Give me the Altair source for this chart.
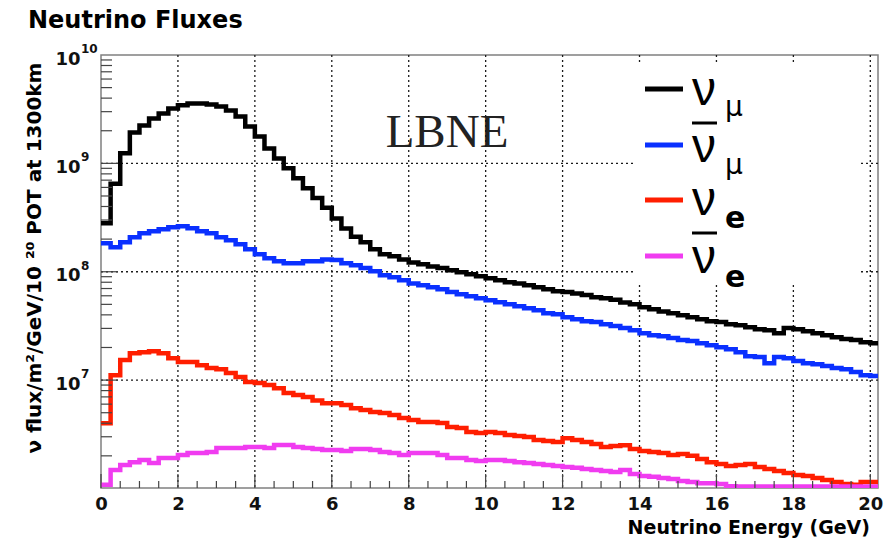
import altair as alt
import pandas as pd

# Flux per 0.25 GeV bin, starting at 0 GeV (nu/m^2/GeV/1e20 POT at 1300 km)
BIN_WIDTH = 0.25

NU_MU = [
    2.8e8, 6.5e8, 1.24e9, 1.93e9, 2.24e9, 2.60e9, 2.89e9, 3.21e9, 3.43e9, 3.57e9,
    3.57e9, 3.50e9, 3.35e9, 3.08e9, 2.71e9, 2.19e9, 1.77e9, 1.37e9, 1.11e9, 9.0e8,
    7.3e8, 5.9e8, 4.8e8, 3.9e8, 3.1e8, 2.5e8, 2.1e8, 1.87e8, 1.61e8, 1.45e8,
    1.39e8, 1.30e8, 1.22e8, 1.17e8, 1.12e8, 1.08e8, 1.03e8, 9.9e7, 9.5e7, 9.1e7,
    8.7e7, 8.35e7, 8.0e7, 7.8e7, 7.5e7, 7.2e7, 6.9e7, 6.6e7, 6.5e7, 6.3e7,
    6.1e7, 5.8e7, 5.7e7, 5.5e7, 5.2e7, 5.0e7, 4.7e7, 4.5e7, 4.3e7, 4.15e7,
    3.97e7, 3.81e7, 3.65e7, 3.50e7, 3.43e7, 3.28e7, 3.21e7, 3.08e7, 2.95e7, 2.89e7,
    2.71e7, 3.02e7, 2.95e7, 2.83e7, 2.71e7, 2.60e7, 2.49e7, 2.39e7, 2.34e7, 2.24e7,
    2.19e7,
]

NU_MU_BAR = [
    1.83e8, 1.68e8, 1.87e8, 2.08e8, 2.26e8, 2.36e8, 2.46e8, 2.57e8, 2.63e8, 2.52e8,
    2.36e8, 2.26e8, 2.08e8, 1.95e8, 1.79e8, 1.61e8, 1.45e8, 1.33e8, 1.25e8, 1.20e8,
    1.20e8, 1.25e8, 1.25e8, 1.30e8, 1.28e8, 1.20e8, 1.15e8, 1.08e8, 1.01e8, 9.3e7,
    8.9e7, 8.35e7, 7.8e7, 7.5e7, 7.2e7, 6.9e7, 6.5e7, 6.2e7, 5.94e7, 5.7e7,
    5.46e7, 5.24e7, 5.01e7, 4.81e7, 4.61e7, 4.42e7, 4.15e7, 4.06e7, 3.81e7, 3.65e7,
    3.50e7, 3.43e7, 3.28e7, 3.15e7, 3.02e7, 2.89e7, 2.71e7, 2.60e7, 2.54e7, 2.44e7,
    2.34e7, 2.29e7, 2.19e7, 2.10e7, 2.01e7, 1.93e7, 1.81e7, 1.66e7, 1.63e7, 1.43e7,
    1.63e7, 1.59e7, 1.50e7, 1.43e7, 1.40e7, 1.35e7, 1.29e7, 1.26e7, 1.19e7, 1.11e7,
    1.09e7,
]

NU_E = [
    4.0e6, 1.11e7, 1.53e7, 1.77e7, 1.81e7, 1.85e7, 1.77e7, 1.59e7, 1.47e7, 1.47e7,
    1.37e7, 1.29e7, 1.26e7, 1.16e7, 1.07e7, 9.6e6, 9.4e6, 9.0e6, 8.4e6, 7.6e6,
    7.3e6, 7.0e6, 6.5e6, 6.1e6, 6.1e6, 5.9e6, 5.5e6, 5.3e6, 5.07e6, 4.97e6,
    4.76e6, 4.47e6, 4.28e6, 4.10e6, 4.10e6, 4.02e6, 3.69e6, 3.61e6, 3.32e6, 3.25e6,
    3.32e6, 3.25e6, 3.11e6, 3.05e6, 2.98e6, 2.80e6, 2.74e6, 2.68e6, 2.90e6, 2.80e6,
    2.68e6, 2.57e6, 2.41e6, 2.46e6, 2.50e6, 2.31e6, 2.22e6, 2.17e6, 2.12e6, 2.04e6,
    2.08e6, 2.00e6, 1.87e6, 1.75e6, 1.68e6, 1.61e6, 1.65e6, 1.68e6, 1.58e6, 1.51e6,
    1.45e6, 1.39e6, 1.33e6, 1.30e6, 1.25e6, 1.20e6, 1.15e6, 1.10e6, 1.08e6, 1.15e6,
    1.15e6,
]

NU_E_BAR = [
    1.08e6, 1.48e6, 1.65e6, 1.75e6, 1.83e6, 1.72e6, 1.91e6, 1.91e6, 2.04e6, 2.12e6,
    2.12e6, 2.17e6, 2.36e6, 2.36e6, 2.36e6, 2.41e6, 2.41e6, 2.36e6, 2.52e6, 2.52e6,
    2.41e6, 2.36e6, 2.31e6, 2.26e6, 2.26e6, 2.22e6, 2.31e6, 2.31e6, 2.26e6, 2.17e6,
    2.12e6, 2.04e6, 2.12e6, 2.12e6, 2.12e6, 2.04e6, 1.91e6, 1.91e6, 1.83e6, 1.79e6,
    1.83e6, 1.83e6, 1.79e6, 1.75e6, 1.72e6, 1.68e6, 1.65e6, 1.61e6, 1.58e6, 1.55e6,
    1.51e6, 1.48e6, 1.45e6, 1.42e6, 1.48e6, 1.36e6, 1.30e6, 1.28e6, 1.25e6, 1.22e6,
    1.17e6, 1.15e6, 1.12e6, 1.12e6, 1.10e6, 1.05e6, 1.04e6, 1.04e6, 1.04e6, 1.04e6,
    1.04e6, 1.04e6, 1.04e6, 1.04e6, 1.04e6, 1.04e6, 1.04e6, 1.04e6, 1.04e6, 1.04e6,
    1.04e6,
]

SERIES = ["numu", "numubar", "nue", "nuebar"]
COLORS = ["#000000", "#0a30ff", "#ff1e00", "#f03cf0"]

X_LABELS = [0, 2, 4, 6, 8, 10, 12, 14, 16, 18, 20]
Y_LABELS = [1e7, 1e8, 1e9, 1e10]
Y_EXPONENTS = ["7", "8", "9", "10"]

# histogram outlines: each bin's low edge, plus the closing edge of the last bin
rows = []
for name, vals in zip(SERIES, [NU_MU, NU_MU_BAR, NU_E, NU_E_BAR]):
    edges = [i * BIN_WIDTH for i in range(len(vals) + 1)]
    for e, v in zip(edges, vals + [vals[-1]]):
        rows.append({"E": e, "flux": v, "series": name})
hist = pd.DataFrame(rows)

W, H = 777, 433
xs = alt.Scale(domain=[0, 20.2], nice=False, zero=False)
ys = alt.Scale(type="log", domain=[1.01e6, 1e10], nice=False)

SANS = "DejaVu Sans"

# invisible layer that carries both axes; y labels show the mantissa "10"
axes = alt.Chart(hist).mark_point(opacity=0).encode(
    x=alt.X("E:Q", scale=xs, title="", axis=alt.Axis(
        values=X_LABELS, format="d", labelFontSize=18, labelPadding=7)),
    y=alt.Y("flux:Q", scale=ys, title="", axis=alt.Axis(
        values=Y_LABELS, labelExpr="'10'", labelFontSize=18, labelPadding=21,
        labelOffset=4)),
)

# exponents written next to each "10"
exponents = alt.Chart(pd.DataFrame({"flux": Y_LABELS, "exp": Y_EXPONENTS})).mark_text(
    align="left", baseline="middle", font=SANS, fontWeight="bold", fontSize=12,
    color="#111", dx=1, dy=-6,
).encode(y=alt.Y("flux:Q", scale=ys, title=""), x=alt.value(-21), text="exp:N")

curves = alt.Chart(hist).mark_line(
    interpolate="step-after", strokeWidth=4.5, clip=True
).encode(
    x=alt.X("E:Q", scale=xs, title=""),
    y=alt.Y("flux:Q", scale=ys, title=""),
    color=alt.Color("series:N", scale=alt.Scale(domain=SERIES, range=COLORS), legend=None),
)

# dotted grid
GRID_E = [2, 4, 6, 8, 10, 12, 14, 16, 18, 20]
GRID_FLUX = [1e7, 1e8, 1e9]
vgrid = alt.Chart(pd.DataFrame({"E": GRID_E})).mark_rule(
    strokeDash=[2, 3], color="#1a1a1a", strokeWidth=1.3
).encode(x=alt.X("E:Q", scale=xs, title=""))
hgrid = alt.Chart(pd.DataFrame({"flux": GRID_FLUX})).mark_rule(
    strokeDash=[2, 3], color="#1a1a1a", strokeWidth=1.3
).encode(y=alt.Y("flux:Q", scale=ys, title=""))

# inward ticks
Y_MINOR = [m * 10 ** k for k in (6, 7, 8, 9) for m in range(2, 10) if m * 10 ** k > 1.01e6]
X_MINOR = [i * 0.5 for i in range(41) if i % 4 != 0]
X_MAJOR = [i * 2 for i in range(11)]

ytick_minor = alt.Chart(pd.DataFrame({"flux": Y_MINOR})).mark_rule(
    color="#444", strokeWidth=1.2
).encode(y=alt.Y("flux:Q", scale=ys, title=""), x=alt.value(0), x2=alt.value(11))
ytick_major = alt.Chart(pd.DataFrame({"flux": GRID_FLUX})).mark_rule(
    color="#444", strokeWidth=1.2
).encode(y=alt.Y("flux:Q", scale=ys, title=""), x=alt.value(0), x2=alt.value(17))
xtick_minor = alt.Chart(pd.DataFrame({"E": X_MINOR})).mark_rule(
    color="#444", strokeWidth=1.2
).encode(x=alt.X("E:Q", scale=xs, title=""), y=alt.value(H), y2=alt.value(H - 7))
xtick_major = alt.Chart(pd.DataFrame({"E": X_MAJOR})).mark_rule(
    color="#444", strokeWidth=1.2
).encode(x=alt.X("E:Q", scale=xs, title=""), y=alt.value(H), y2=alt.value(H - 14))


def text(t, x, y, size, font=SANS, weight="normal", align="left",
         baseline="alphabetic", angle=0, color="#000"):
    return alt.Chart(pd.DataFrame({"t": [t]})).mark_text(
        align=align, baseline=baseline, font=font, fontSize=size,
        fontWeight=weight, angle=angle, color=color
    ).encode(text="t:N", x=alt.value(x), y=alt.value(y))


def hline(x1, x2, y, color, width):
    return alt.Chart(pd.DataFrame({"a": [0]})).mark_rule(
        color=color, strokeWidth=width
    ).encode(x=alt.value(x1), x2=alt.value(x2), y=alt.value(y))


lbne = text("LBNE", 346, 92, 47, font="Liberation Serif", align="center", color="#222")

legend_box = alt.Chart(pd.DataFrame({"a": [0]})).mark_rect(fill="white").encode(
    x=alt.value(532), x2=alt.value(757), y=alt.value(7), y2=alt.value(230)
)

NU_FONT = "Liberation Sans"
legend = [
    hline(544, 582, 34, COLORS[0], 5),
    text("\u03bd", 591, 50, 48, font=NU_FONT),
    text("\u03bc", 624, 61, 28),
    hline(544, 582, 90, COLORS[1], 5),
    hline(591, 616, 68, "#000", 3),
    text("\u03bd", 591, 107, 48, font=NU_FONT),
    text("\u03bc", 624, 119, 28),
    hline(544, 582, 145, COLORS[2], 5),
    text("\u03bd", 591, 160, 48, font=NU_FONT),
    text("e", 624, 173, 30, weight="bold"),
    hline(544, 582, 201, COLORS[3], 5),
    hline(591, 616, 178, "#000", 3),
    text("\u03bd", 591, 218, 48, font=NU_FONT),
    text("e", 624, 232, 30, weight="bold"),
]

title = text("Neutrino Fluxes", -73, -27, 24, weight="bold")
x_title = text("Neutrino Energy (GeV)", 769, 479, 19, weight="bold", align="right")
y_title = text("\u03bd flux/m\u00b2/GeV/10 \u00b2\u2070 POT at 1300km", -66, 203, 20,
               weight="bold", align="center", baseline="middle", angle=270)

chart = alt.layer(
    axes, lbne, vgrid, hgrid, legend_box, curves,
    ytick_minor, ytick_major, xtick_minor, xtick_major, exponents,
    *legend, title, x_title, y_title,
).properties(
    width=W, height=H,
    padding={"left": 101, "top": 55, "right": 17, "bottom": 51},
    autosize=alt.AutoSizeParams(type="none"),
    background="white",
).configure_view(
    stroke="#808080", strokeWidth=1.5
).configure_axis(
    grid=False, ticks=False, tickSize=0, domain=False,
    labelFont=SANS, labelFontWeight="bold", labelColor="#111",
    labelFlush=False, labelOverlap=False, title=None,
)

chart.save("out.html", embed_options={"renderer": "svg", "actions": False})
